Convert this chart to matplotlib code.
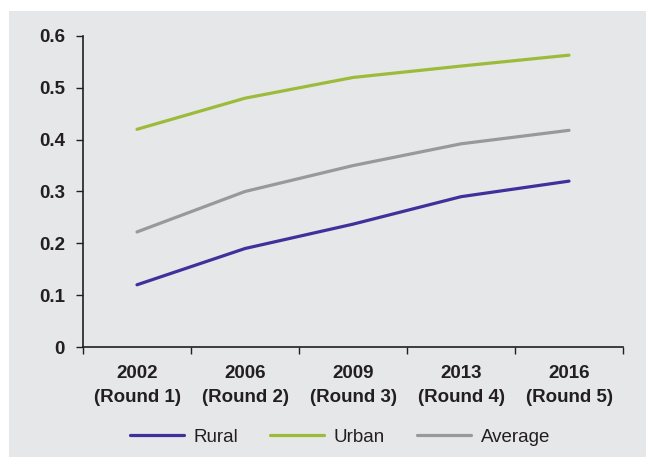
import matplotlib
matplotlib.use('Agg')
from matplotlib import pyplot as plt
from matplotlib.patches import Rectangle

plt.rcParams['font.family'] = ['Liberation Sans Narrow', 'Liberation Sans', 'DejaVu Sans']

rounds = ['2002\n(Round 1)', '2006\n(Round 2)', '2009\n(Round 3)', '2013\n(Round 4)', '2016\n(Round 5)']
rural = [0.12, 0.19, 0.237, 0.29, 0.32]
urban = [0.42, 0.48, 0.52, 0.542, 0.563]
average = [0.222, 0.30, 0.35, 0.392, 0.418]

bg = '#e6e7e9'
fig = plt.figure(figsize=(6.46, 4.57), dpi=100)
fig.patch.set_facecolor('white')
fig.patches.append(Rectangle((9 / 646, 0), 1, 1 - 11 / 457, transform=fig.transFigure,
                             facecolor=bg, edgecolor='none', zorder=-10))

ax = fig.add_axes([83 / 646, 1 - 347 / 457, (623 - 83) / 646, (347 - 36) / 457])
ax.set_facecolor(bg)

x = range(len(rounds))
ax.plot(x, rural, color='#3f319b', lw=2.3, label='Rural', solid_capstyle='round')
ax.plot(x, urban, color='#9cbb3a', lw=2.3, label='Urban', solid_capstyle='round')
ax.plot(x, average, color='#999999', lw=2.3, label='Average', solid_capstyle='round')

ax.set_xlim(-0.5, len(rounds) - 0.5)
ax.set_ylim(0, 0.6)
ax.set_yticks([0, 0.1, 0.2, 0.3, 0.4, 0.5, 0.6])
ax.set_yticklabels(['0', '0.1', '0.2', '0.3', '0.4', '0.5', '0.6'], fontsize=13.5, fontweight='bold', color='#231f20')
ax.set_xticks(list(x))
ax.set_xticklabels(rounds, fontsize=13.5, fontweight='bold', color='#231f20', linespacing=1.5)
ax.set_xticks([i - 0.5 for i in range(len(rounds) + 1)], minor=True)
ax.tick_params(axis='x', which='major', length=0, pad=13)
ax.tick_params(axis='x', which='minor', length=5, width=1, direction='out', color='#231f20')
ax.tick_params(axis='y', length=5, width=1, direction='out', color='#231f20', pad=8)

for s in ['top', 'right']:
    ax.spines[s].set_visible(False)
for s in ['left', 'bottom']:
    ax.spines[s].set_color('#231f20')
    ax.spines[s].set_linewidth(1.2)

fig.legend(loc='center', bbox_to_anchor=(0.526, 1 - 437 / 457), ncol=3, frameon=False,
           fontsize=13.5, handlelength=2.9, columnspacing=1.7, handletextpad=0.5,
           labelcolor='#231f20')

fig.savefig('out.png', dpi=100)
